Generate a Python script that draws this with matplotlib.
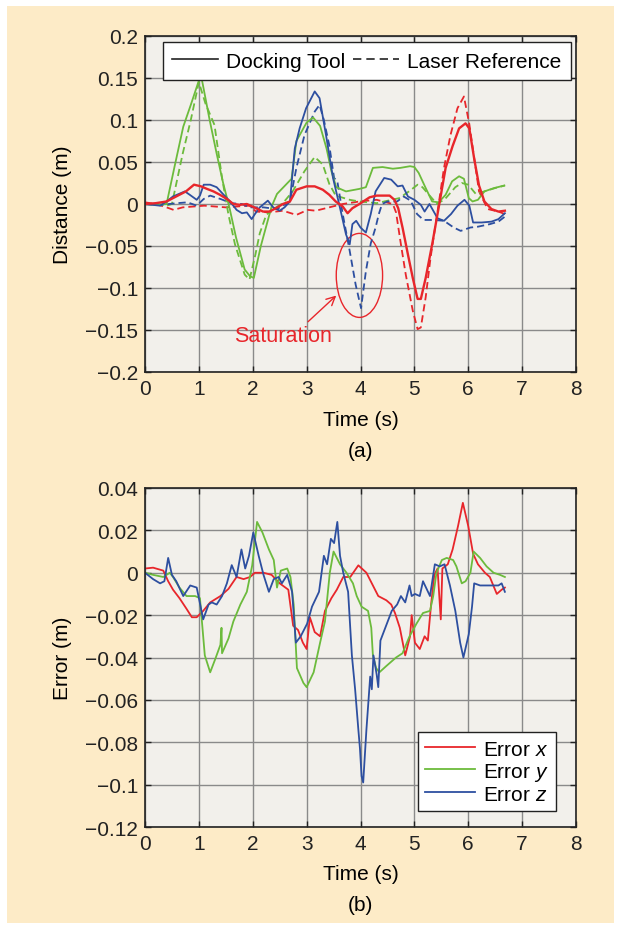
import matplotlib
matplotlib.use("Agg")
import matplotlib.pyplot as plt
from matplotlib.lines import Line2D
from matplotlib.patches import Ellipse, Rectangle
import numpy as np

plt.rcParams['font.family'] = ['Liberation Sans', 'DejaVu Sans']
plt.rcParams['mathtext.fontset'] = 'custom'
plt.rcParams['mathtext.it'] = 'Liberation Sans:italic'
plt.rcParams['mathtext.rm'] = 'Liberation Sans'

RED = '#e8262b'
GREEN = '#6cbb3c'
BLUE = '#2d4fa0'

# ---- (a) distance: docking tool (solid) vs laser reference (dashed)
t_dock_x = [0, 0.2, 0.4, 0.58, 0.76, 0.91, 1.04, 1.15, 1.27, 1.39, 1.52, 1.64, 1.76, 1.89, 2.06, 2.19,
            2.31, 2.43, 2.56, 2.69, 2.81, 3.0, 3.15, 3.3, 3.42, 3.54, 3.67, 3.76, 3.85, 3.98, 4.17, 4.3,
            4.54, 4.63, 4.7, 4.78, 4.88, 4.97, 5.06, 5.12, 5.21, 5.33, 5.46, 5.58, 5.71, 5.83, 5.95, 6.02,
            6.11, 6.2, 6.3, 6.43, 6.56, 6.68]
dock_x = [0, 0.001, 0.003, 0.009, 0.015, 0.023, 0.021, 0.018, 0.015, 0.011, 0.006, 0.0, -0.001, 0.0,
          -0.005, -0.009, -0.009, -0.005, 0.0, 0.003, 0.017, 0.021, 0.021, 0.017, 0.011, 0.003, -0.003,
          -0.011, -0.005, 0.0, 0.008, 0.01, 0.01, 0.005, -0.005, -0.028, -0.06, -0.088, -0.113, -0.113,
          -0.088, -0.048, -0.001, 0.043, 0.069, 0.09, 0.096, 0.09, 0.054, 0.022, 0.003, -0.006, -0.009,
          -0.008]

t_laser_x = [0, 0.2, 0.4, 0.53, 0.7, 0.9, 1.1, 1.3, 1.5, 1.7, 1.94, 2.06, 2.3, 2.56, 2.81, 3.02, 3.17,
             3.42, 3.67, 3.98, 4.3, 4.6, 4.66, 4.75, 4.84, 4.97, 5.06, 5.12, 5.21, 5.3, 5.43, 5.55, 5.67,
             5.8, 5.92, 6.02, 6.11, 6.2, 6.36, 6.56, 6.68]
laser_x = [0.002, 0.0, -0.004, -0.007, -0.004, -0.003, -0.002, -0.003, -0.004, -0.003, -0.002, -0.009,
           -0.01, -0.008, -0.013, -0.007, -0.008, -0.004, 0.0, 0.003, 0.005, 0.0, -0.01, -0.048, -0.084,
           -0.127, -0.149, -0.147, -0.111, -0.064, -0.009, 0.043, 0.082, 0.114, 0.128, 0.095, 0.055,
           0.015, -0.006, -0.009, -0.012]

t_dock_y = [0, 0.2, 0.4, 0.55, 0.71, 0.85, 1.0, 1.05, 1.2, 1.33, 1.45, 1.57, 1.69, 1.85, 1.95, 2.02,
            2.15, 2.35, 2.45, 2.6, 2.72, 2.81, 3.0, 3.12, 3.25, 3.37, 3.46, 3.55, 3.73, 3.98, 4.1, 4.23,
            4.41, 4.6, 4.74, 4.92, 5.0, 5.08, 5.21, 5.33, 5.45, 5.58, 5.7, 5.83, 5.92, 6.01, 6.08, 6.18,
            6.3, 6.48, 6.67]
dock_y = [0.0, -0.001, 0.0, 0.045, 0.092, 0.118, 0.147, 0.15, 0.1, 0.06, 0.025, -0.005, -0.04, -0.078,
          -0.086, -0.088, -0.05, -0.003, 0.012, 0.022, 0.03, 0.075, 0.097, 0.103, 0.093, 0.066, 0.039,
          0.02, 0.015, 0.018, 0.02, 0.043, 0.044, 0.042, 0.043, 0.045, 0.044, 0.037, 0.019, 0.003, 0.002,
          0.011, 0.027, 0.033, 0.03, 0.007, 0.003, 0.005, 0.015, 0.019, 0.022]

t_laser_y = [0, 0.2, 0.4, 0.5, 0.7, 0.85, 1.0, 1.12, 1.29, 1.43, 1.55, 1.67, 1.85, 1.94, 2.05, 2.13,
             2.25, 2.38, 2.56, 2.74, 2.96, 3.15, 3.3, 3.42, 3.54, 3.8, 3.98, 4.3, 4.72, 4.9, 5.06, 5.15,
             5.27, 5.42, 5.57, 5.76, 5.88, 6.0, 6.05, 6.14, 6.3, 6.5, 6.68]
laser_y = [0.0, 0.0, -0.002, 0.0, 0.06, 0.1, 0.145, 0.12, 0.094, 0.031, -0.013, -0.048, -0.084, -0.09,
           -0.06, -0.035, -0.013, -0.006, 0.001, 0.015, 0.039, 0.056, 0.047, 0.024, 0.01, 0.005, 0.003,
           0.001, 0.007, 0.015, 0.023, 0.02, 0.011, 0.0, 0.006, 0.02, 0.025, 0.023, 0.019, 0.012, 0.015,
           0.019, 0.022]

t_dock_z = [0, 0.28, 0.4, 0.52, 0.74, 0.83, 0.96, 1.02, 1.09, 1.21, 1.33, 1.46, 1.58, 1.7, 1.8, 1.89,
            1.98, 2.04, 2.13, 2.28, 2.38, 2.5, 2.59, 2.69, 2.78, 2.87, 2.99, 3.15, 3.24, 3.36, 3.49, 3.61,
            3.73, 3.8, 3.85, 3.92, 4.0, 4.1, 4.19, 4.28, 4.44, 4.57, 4.69, 4.78, 4.88, 5.0, 5.12, 5.19,
            5.28, 5.43, 5.55, 5.68, 5.8, 5.93, 6.02, 6.09, 6.25, 6.43, 6.56, 6.68]
dock_z = [0.0, -0.002, 0.003, 0.009, 0.015, 0.011, 0.005, 0.01, 0.023, 0.023, 0.02, 0.011, 0.003,
          -0.007, -0.011, -0.01, -0.018, -0.012, -0.004, 0.004, -0.004, -0.008, -0.004, 0.003, 0.066,
          0.09, 0.114, 0.134, 0.126, 0.082, 0.031, -0.002, -0.036, -0.048, -0.024, -0.02, -0.028, -0.034,
          -0.012, 0.015, 0.031, 0.029, 0.021, 0.022, 0.009, 0.005, -0.001, -0.009, 0.0, -0.017, -0.02,
          -0.012, -0.002, 0.005, -0.002, -0.022, -0.022, -0.021, -0.018, -0.011]

t_laser_z = [0, 0.3, 0.6, 0.79, 0.96, 1.09, 1.21, 1.4, 1.6, 1.8, 1.94, 2.2, 2.45, 2.69, 2.81, 2.96, 3.15,
             3.24, 3.32, 3.42, 3.51, 3.57, 3.67, 3.8, 3.91, 4.01, 4.1, 4.19, 4.28, 4.34, 4.4, 4.5, 4.68,
             4.8, 4.93, 5.05, 5.17, 5.36, 5.55, 5.73, 5.86, 6.04, 6.18, 6.4, 6.56, 6.68]
laser_z = [0.0, -0.001, 0.001, 0.002, -0.002, 0.006, 0.01, 0.006, 0.001, 0.0, -0.004, -0.004, -0.006,
           0.003, 0.043, 0.082, 0.11, 0.118, 0.1, 0.07, 0.031, 0.027, -0.012, -0.056, -0.096, -0.124,
           -0.08, -0.047, -0.028, -0.012, 0.0, 0.003, 0.003, 0.009, 0.004, -0.012, -0.019, -0.019, -0.02,
           -0.028, -0.032, -0.028, -0.027, -0.024, -0.021, -0.015]

# ---- (b) errors
t_err_x = [0, 0.15, 0.34, 0.43, 0.52, 0.64, 0.77, 0.87, 0.96, 1.08, 1.21, 1.4, 1.55, 1.7, 1.83, 1.95,
           2.04, 2.2, 2.35, 2.5, 2.66, 2.75, 2.84, 2.93, 3.0, 3.06, 3.15, 3.25, 3.34, 3.46, 3.56, 3.68,
           3.81, 3.96, 4.11, 4.23, 4.33, 4.48, 4.57, 4.64, 4.73, 4.83, 4.92, 4.95, 5.01, 5.1, 5.19, 5.25,
           5.31, 5.37, 5.43, 5.49, 5.52, 5.62, 5.71, 5.81, 5.9, 6.0, 6.09, 6.18, 6.31, 6.4, 6.53, 6.62,
           6.68]
err_x = [0.002, 0.0024, 0.001, -0.004, -0.008, -0.012, -0.017, -0.021, -0.021, -0.018, -0.014, -0.011,
         -0.0076, -0.002, -0.003, -0.002, 0.0, 0.0, -0.001, -0.005, -0.008, -0.025, -0.027, -0.033,
         -0.036, -0.021, -0.028, -0.03, -0.018, -0.012, -0.008, -0.002, -0.002, 0.0035, 0.0, -0.006,
         -0.011, -0.013, -0.015, -0.019, -0.026, -0.039, -0.03, -0.02, -0.033, -0.036, -0.03, -0.032,
         -0.015, -0.001, 0.002, -0.022, 0.002, 0.004, 0.011, 0.022, 0.033, 0.022, 0.009, 0.004, 0.0,
         -0.002, -0.01, -0.008, -0.007]

t_err_y = [0, 0.15, 0.34, 0.46, 0.52, 0.64, 0.77, 0.93, 1.02, 1.11, 1.21, 1.3, 1.4, 1.42, 1.43, 1.55,
           1.64, 1.77, 1.89, 1.99, 2.08, 2.18, 2.3, 2.39, 2.45, 2.52, 2.64, 2.7, 2.76, 2.82, 2.94, 3.0,
           3.13, 3.25, 3.34, 3.43, 3.5, 3.62, 3.74, 3.86, 3.93, 4.02, 4.14, 4.2, 4.23, 4.29, 4.35, 4.48,
           4.66, 4.78, 4.91, 5.04, 5.16, 5.29, 5.35, 5.41, 5.51, 5.6, 5.72, 5.78, 5.88, 5.95, 6.04, 6.1,
           6.22, 6.34, 6.47, 6.59, 6.68]
err_y = [0.0, -0.001, -0.002, 0.0, -0.002, -0.007, -0.011, -0.011, -0.012, -0.039, -0.047, -0.041,
         -0.034, -0.026, -0.038, -0.031, -0.023, -0.015, -0.009, 0.0035, 0.024, 0.019, 0.011, 0.006,
         -0.007, 0.001, 0.002, -0.002, -0.015, -0.045, -0.052, -0.054, -0.047, -0.033, -0.023, 0.0, 0.01,
         0.004, 0.0, -0.005, -0.011, -0.016, -0.018, -0.026, -0.039, -0.045, -0.047, -0.044, -0.04,
         -0.038, -0.03, -0.024, -0.019, -0.018, -0.011, 0.0, 0.006, 0.007, 0.006, 0.003, -0.005, -0.004,
         0.0, 0.01, 0.007, 0.003, 0.0, -0.001, -0.002]

t_err_z = [0, 0.15, 0.28, 0.36, 0.43, 0.5, 0.58, 0.71, 0.84, 0.96, 1.08, 1.18, 1.24, 1.33, 1.43, 1.52,
           1.61, 1.7, 1.79, 1.86, 1.93, 2.01, 2.11, 2.2, 2.3, 2.39, 2.48, 2.54, 2.64, 2.73, 2.8, 2.89,
           3.01, 3.1, 3.23, 3.32, 3.38, 3.45, 3.51, 3.57, 3.62, 3.68, 3.77, 3.84, 3.9, 3.96, 3.99, 4.02,
           4.05, 4.11, 4.18, 4.21, 4.24, 4.3, 4.33, 4.37, 4.46, 4.58, 4.68, 4.75, 4.83, 4.91, 4.95, 5.01,
           5.1, 5.16, 5.29, 5.38, 5.47, 5.56, 5.66, 5.76, 5.85, 5.91, 6.01, 6.07, 6.11, 6.22, 6.34, 6.47,
           6.56, 6.62, 6.68]
err_z = [0.0, -0.003, -0.005, -0.004, 0.007, -0.001, -0.004, -0.011, -0.006, -0.007, -0.022, -0.015,
         -0.014, -0.015, -0.011, -0.005, 0.0036, -0.002, 0.011, 0.002, 0.008, 0.019, 0.008, -0.001,
         -0.009, -0.003, -0.002, -0.005, -0.001, -0.009, -0.033, -0.03, -0.024, -0.016, -0.009, 0.008,
         0.004, 0.016, 0.014, 0.024, 0.008, 0.0, -0.009, -0.039, -0.055, -0.074, -0.083, -0.096, -0.099,
         -0.074, -0.049, -0.055, -0.039, -0.048, -0.054, -0.032, -0.026, -0.018, -0.015, -0.011, -0.014,
         -0.006, -0.011, -0.01, -0.011, -0.004, -0.011, 0.004, 0.003, 0.004, -0.006, -0.018, -0.033,
         -0.04, -0.029, -0.016, -0.005, -0.006, -0.006, -0.006, -0.006, -0.005, -0.009]

x_ticks = np.arange(0, 9, 1)
top_yticks = [0.2, 0.15, 0.1, 0.05, 0, -0.05, -0.1, -0.15, -0.2]
top_ylabels = ['0.2', '0.15', '0.1', '0.05', '0', '\u22120.05', '\u22120.1', '\u22120.15', '\u22120.2']
bot_yticks = [0.04, 0.02, 0, -0.02, -0.04, -0.06, -0.08, -0.1, -0.12]
bot_ylabels = ['0.04', '0.02', '0', '\u22120.02', '\u22120.04', '\u22120.06', '\u22120.08',
               '\u22120.1', '\u22120.12']

FS = 15
LFS = 15
W, H = 618, 928
fig = plt.figure(figsize=(W / 100, H / 100), dpi=100)
fig.patch.set_facecolor('white')
fig.patches.append(Rectangle((7 / W, 1 - 924 / H), 607 / W, 917 / H, transform=fig.transFigure,
                             facecolor='#fdebc7', edgecolor='none', zorder=-10))

ax1 = fig.add_axes([145 / W, 1 - 373 / H, 431 / W, 336 / H])
ax2 = fig.add_axes([145 / W, 1 - 828 / H, 431 / W, 339 / H])


def style(ax, yticks, ylabels, ylim):
    ax.set_facecolor('#f2f0eb')
    ax.set_xlim(0, 8)
    ax.set_ylim(*ylim)
    ax.set_xticks(x_ticks)
    ax.set_xticklabels([str(v) for v in x_ticks], fontsize=FS)
    ax.set_yticks(yticks)
    ax.set_yticklabels(ylabels, fontsize=FS)
    ax.grid(True, color='#8a8a8a', linewidth=1.0)
    ax.set_axisbelow(True)
    ax.tick_params(direction='in', length=4, width=1, top=True, right=True, pad=5, colors='#222222')
    for s in ax.spines.values():
        s.set_color('#222222')
        s.set_linewidth(1.2)


style(ax1, top_yticks, top_ylabels, (-0.2, 0.2))
style(ax2, bot_yticks, bot_ylabels, (-0.12, 0.04))

lw = 1.3
dash = (4, 2.2)
ax1.plot(t_laser_x, laser_x, color=RED, lw=lw, dashes=dash)
ax1.plot(t_laser_y, laser_y, color=GREEN, lw=lw, dashes=dash)
ax1.plot(t_laser_z, laser_z, color=BLUE, lw=lw, dashes=dash)
ax1.plot(t_dock_y, dock_y, color=GREEN, lw=lw)
ax1.plot(t_dock_z, dock_z, color=BLUE, lw=lw)
ax1.plot(t_dock_x, dock_x, color=RED, lw=1.7)

ax1.add_patch(Ellipse((3.98, -0.085), 0.86, 0.1, facecolor='none', edgecolor=RED, lw=1.0))
ax1.annotate('Saturation', xy=(3.55, -0.109), xytext=(2.57, -0.156), color=RED, fontsize=15.5,
             ha='center', va='center',
             arrowprops=dict(arrowstyle='->', color=RED, lw=1.0, shrinkA=0, shrinkB=0,
                             relpos=(0.72, 1.0)))

h1 = [Line2D([], [], color='#222222', lw=1.2), Line2D([], [], color='#222222', lw=1.2, dashes=(5, 3))]
leg1 = ax1.legend(h1, ['Docking Tool', 'Laser Reference'], ncol=2, loc='upper right',
                  bbox_to_anchor=(0.988, 0.981), fontsize=LFS, frameon=True, fancybox=False,
                  framealpha=1, edgecolor='#222222', handlelength=2.2, handletextpad=0.4,
                  columnspacing=0.35, borderpad=0.45, borderaxespad=0)
leg1.get_frame().set_linewidth(1.0)

ax1.set_ylabel('Distance (m)', fontsize=FS, labelpad=9)
ax1.set_xlabel('Time (s)', fontsize=FS, labelpad=9)
fig.text(0.5 * (145 + 576) / W, 1 - 452 / H, '(a)', ha='center', va='center', fontsize=FS)

ax2.plot(t_err_x, err_x, color=RED, lw=lw, label=r'Error $\mathit{x}$')
ax2.plot(t_err_y, err_y, color=GREEN, lw=lw, label=r'Error $\mathit{y}$')
ax2.plot(t_err_z, err_z, color=BLUE, lw=lw, label=r'Error $\mathit{z}$')
leg2 = ax2.legend(loc='lower right', bbox_to_anchor=(0.954, 0.047), fontsize=LFS, frameon=True,
                  fancybox=False, framealpha=1, edgecolor='#222222', handlelength=2.4,
                  handletextpad=0.4, borderpad=0.35, labelspacing=0.1, borderaxespad=0)
leg2.get_frame().set_linewidth(1.0)

ax2.set_ylabel('Error (m)', fontsize=FS, labelpad=9)
ax2.set_xlabel('Time (s)', fontsize=FS, labelpad=8)
fig.text(0.5 * (145 + 576) / W, 1 - 906 / H, '(b)', ha='center', va='center', fontsize=FS)

fig.savefig('out.png', dpi=100, facecolor=fig.get_facecolor())
